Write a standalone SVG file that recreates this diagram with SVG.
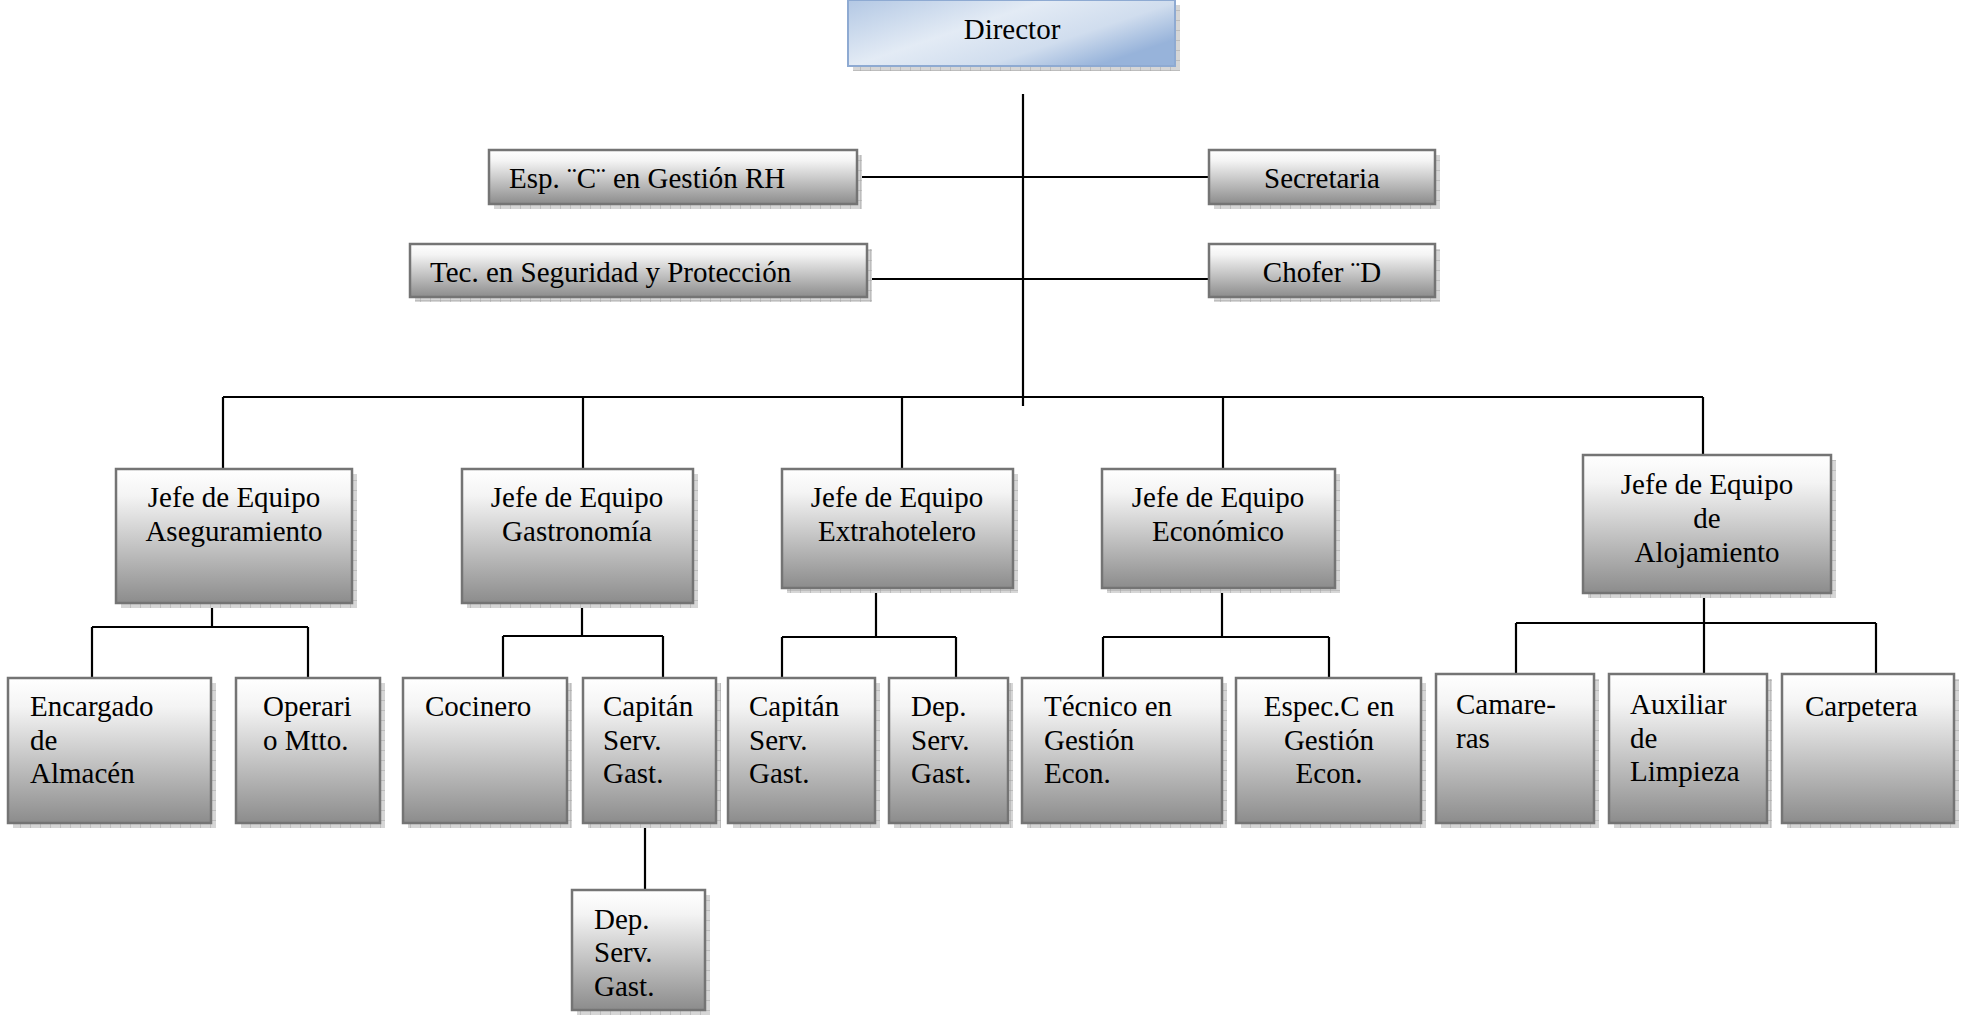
<svg xmlns="http://www.w3.org/2000/svg" width="1965" height="1021" viewBox="0 0 1965 1021">
<defs>
<linearGradient id="gGray" x1="0" y1="0" x2="0" y2="1">
<stop offset="0" stop-color="#ffffff"/>
<stop offset="0.2" stop-color="#f4f4f4"/>
<stop offset="1" stop-color="#8c8c8c"/>
</linearGradient>
<linearGradient id="gBlue" x1="0" y1="0" x2="1" y2="0.6">
<stop offset="0" stop-color="#b3c8e4"/>
<stop offset="0.45" stop-color="#e3ebf5"/>
<stop offset="0.75" stop-color="#d0ddee"/>
<stop offset="1" stop-color="#97b3da"/>
</linearGradient>
<pattern id="pShadow" width="10" height="10" patternUnits="userSpaceOnUse">
<rect width="10" height="10" fill="#d6d6d6"/>
<path d="M0 0V10M0 0H10" stroke="#a4a4a4" stroke-width="1"/>
</pattern>
<style>
.sh{fill:url(#pShadow);}
.bx{fill:url(#gGray);stroke:#747474;stroke-width:2.5;}
.bd{fill:url(#gBlue);stroke:#8eaad2;stroke-width:2;}
.t{font-family:"Liberation Serif","Times New Roman",serif;font-size:29px;fill:#000;}
.m{text-anchor:middle;}
.c{fill:none;stroke:#000;stroke-width:2.2;}
</style>
</defs>
<rect width="1965" height="1021" fill="#ffffff"/>

<g id="connectors">
<path class="c" d="M1023 94V406"/>
<path class="c" d="M857 177H1209"/>
<path class="c" d="M867 279H1209"/>
<path class="c" d="M223 397H1703"/>
<path class="c" d="M223 397V469M583 397V469M902 397V469M1223 397V469M1703 397V455"/>
<path class="c" d="M212 603V627M92 627H308M92 627V678M308 627V678"/>
<path class="c" d="M582 603V636M503 636H663M503 636V678M663 636V678"/>
<path class="c" d="M876 588V637M782 637H956M782 637V678M956 637V678"/>
<path class="c" d="M1222 588V637M1103 637H1329M1103 637V678M1329 637V678"/>
<path class="c" d="M1704 593V623M1516 623H1876M1516 623V674M1704 623V674M1876 623V674"/>
<path class="c" d="M645 823V890"/>
</g>

<g id="director">
<rect class="sh" x="853" y="5" width="327" height="66"/>
<rect class="bd" x="848" y="0" width="327" height="66"/>
<text class="t m" x="1012" y="39">Director</text>
</g>
<g id="esp-rh">
<rect class="sh" x="494" y="155" width="368" height="54"/>
<rect class="bx" x="489" y="150" width="368" height="54"/>
<text class="t" x="509" y="188">Esp. ¨C¨ en Gestión RH</text>
</g>
<g id="secretaria">
<rect class="sh" x="1214" y="155" width="226" height="54"/>
<rect class="bx" x="1209" y="150" width="226" height="54"/>
<text class="t m" x="1322" y="188">Secretaria</text>
</g>
<g id="tec-seguridad">
<rect class="sh" x="415" y="249" width="457" height="53"/>
<rect class="bx" x="410" y="244" width="457" height="53"/>
<text class="t" x="430" y="282">Tec. en Seguridad y Protección</text>
</g>
<g id="chofer">
<rect class="sh" x="1214" y="249" width="226" height="53"/>
<rect class="bx" x="1209" y="244" width="226" height="53"/>
<text class="t m" x="1322" y="282">Chofer ¨D</text>
</g>

<g id="jefe-aseguramiento">
<rect class="sh" x="121" y="474" width="236" height="134"/>
<rect class="bx" x="116" y="469" width="236" height="134"/>
<text class="t m" x="234" y="507">Jefe de Equipo</text>
<text class="t m" x="234" y="541">Aseguramiento</text>
</g>
<g id="jefe-gastronomia">
<rect class="sh" x="467" y="474" width="231" height="134"/>
<rect class="bx" x="462" y="469" width="231" height="134"/>
<text class="t m" x="577" y="507">Jefe de Equipo</text>
<text class="t m" x="577" y="541">Gastronomía</text>
</g>
<g id="jefe-extrahotelero">
<rect class="sh" x="787" y="474" width="231" height="119"/>
<rect class="bx" x="782" y="469" width="231" height="119"/>
<text class="t m" x="897" y="507">Jefe de Equipo</text>
<text class="t m" x="897" y="541">Extrahotelero</text>
</g>
<g id="jefe-economico">
<rect class="sh" x="1107" y="474" width="233" height="119"/>
<rect class="bx" x="1102" y="469" width="233" height="119"/>
<text class="t m" x="1218" y="507">Jefe de Equipo</text>
<text class="t m" x="1218" y="541">Económico</text>
</g>
<g id="jefe-alojamiento">
<rect class="sh" x="1588" y="460" width="248" height="138"/>
<rect class="bx" x="1583" y="455" width="248" height="138"/>
<text class="t m" x="1707" y="494">Jefe de Equipo</text>
<text class="t m" x="1707" y="528">de</text>
<text class="t m" x="1707" y="562">Alojamiento</text>
</g>

<g id="encargado-almacen">
<rect class="sh" x="13" y="683" width="203" height="145"/>
<rect class="bx" x="8" y="678" width="203" height="145"/>
<text class="t" x="30" y="716">Encargado</text>
<text class="t" x="30" y="750">de</text>
<text class="t" x="30" y="783">Almacén</text>
</g>
<g id="operario-mtto">
<rect class="sh" x="241" y="683" width="144" height="145"/>
<rect class="bx" x="236" y="678" width="144" height="145"/>
<text class="t" x="263" y="716">Operari</text>
<text class="t" x="263" y="750">o Mtto.</text>
</g>
<g id="cocinero">
<rect class="sh" x="408" y="683" width="164" height="145"/>
<rect class="bx" x="403" y="678" width="164" height="145"/>
<text class="t" x="425" y="716">Cocinero</text>
</g>
<g id="capitan-gastro">
<rect class="sh" x="588" y="683" width="133" height="145"/>
<rect class="bx" x="583" y="678" width="133" height="145"/>
<text class="t" x="603" y="716">Capitán</text>
<text class="t" x="603" y="750">Serv.</text>
<text class="t" x="603" y="783">Gast.</text>
</g>
<g id="dep-gastro">
<rect class="sh" x="577" y="895" width="133" height="120"/>
<rect class="bx" x="572" y="890" width="133" height="120"/>
<text class="t" x="594" y="929">Dep.</text>
<text class="t" x="594" y="962">Serv.</text>
<text class="t" x="594" y="996">Gast.</text>
</g>
<g id="capitan-extra">
<rect class="sh" x="733" y="683" width="147" height="145"/>
<rect class="bx" x="728" y="678" width="147" height="145"/>
<text class="t" x="749" y="716">Capitán</text>
<text class="t" x="749" y="750">Serv.</text>
<text class="t" x="749" y="783">Gast.</text>
</g>
<g id="dep-extra">
<rect class="sh" x="894" y="683" width="119" height="145"/>
<rect class="bx" x="889" y="678" width="119" height="145"/>
<text class="t" x="911" y="716">Dep.</text>
<text class="t" x="911" y="750">Serv.</text>
<text class="t" x="911" y="783">Gast.</text>
</g>
<g id="tecnico-econ">
<rect class="sh" x="1027" y="683" width="200" height="145"/>
<rect class="bx" x="1022" y="678" width="200" height="145"/>
<text class="t" x="1044" y="716">Técnico en</text>
<text class="t" x="1044" y="750">Gestión</text>
<text class="t" x="1044" y="783">Econ.</text>
</g>
<g id="espec-econ">
<rect class="sh" x="1241" y="683" width="185" height="145"/>
<rect class="bx" x="1236" y="678" width="185" height="145"/>
<text class="t m" x="1329" y="716">Espec.C en</text>
<text class="t m" x="1329" y="750">Gestión</text>
<text class="t m" x="1329" y="783">Econ.</text>
</g>
<g id="camareras">
<rect class="sh" x="1441" y="679" width="158" height="149"/>
<rect class="bx" x="1436" y="674" width="158" height="149"/>
<text class="t" x="1456" y="714">Camare-</text>
<text class="t" x="1456" y="748">ras</text>
</g>
<g id="auxiliar-limpieza">
<rect class="sh" x="1614" y="679" width="158" height="149"/>
<rect class="bx" x="1609" y="674" width="158" height="149"/>
<text class="t" x="1630" y="714">Auxiliar</text>
<text class="t" x="1630" y="748">de</text>
<text class="t" x="1630" y="781">Limpieza</text>
</g>
<g id="carpetera">
<rect class="sh" x="1787" y="679" width="172" height="149"/>
<rect class="bx" x="1782" y="674" width="172" height="149"/>
<text class="t" x="1805" y="716">Carpetera</text>
</g>
</svg>
